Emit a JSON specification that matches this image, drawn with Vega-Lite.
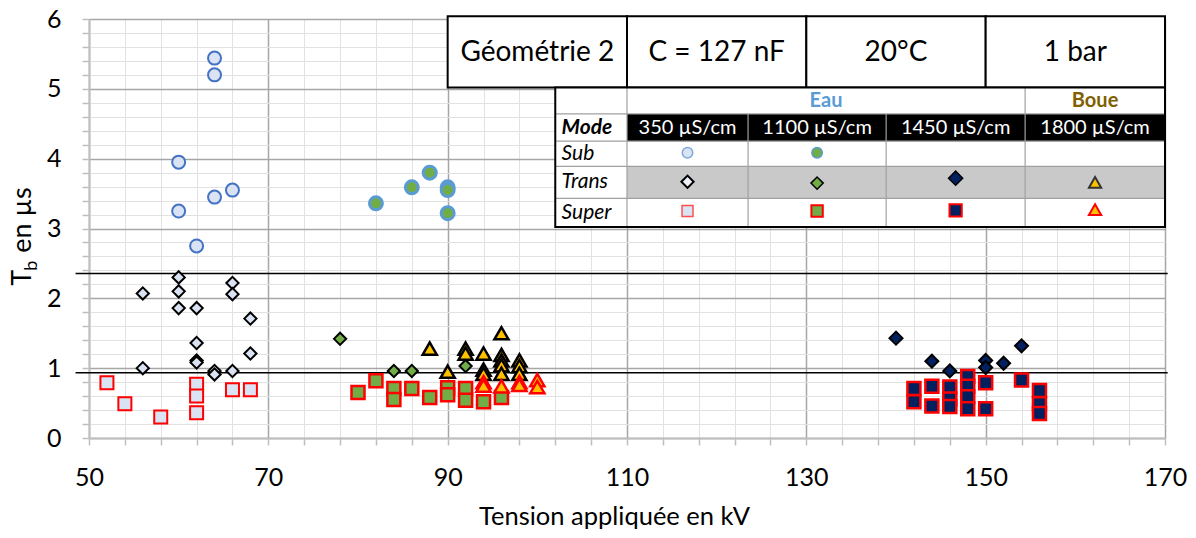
{
"$schema": "https://vega.github.io/schema/vega-lite/v6.json",
"width": 1076, "height": 419,
"autosize": {"type": "none"},
"padding": {"left": 89, "top": 19, "right": 31, "bottom": 100},
"background": "white",
"config": {"view": {"stroke": null}, "font": "Lato", "text": {"font": "Lato"}},
"datasets": {
"points": [
{"kV":64,"Tb":5.44,"cond":"350","mode":"Sub"},{"kV":64,"Tb":5.20,"cond":"350","mode":"Sub"},{"kV":60,"Tb":3.95,"cond":"350","mode":"Sub"},{"kV":60,"Tb":3.25,"cond":"350","mode":"Sub"},{"kV":64,"Tb":3.45,"cond":"350","mode":"Sub"},{"kV":66,"Tb":3.55,"cond":"350","mode":"Sub"},{"kV":62,"Tb":2.75,"cond":"350","mode":"Sub"},
{"kV":56,"Tb":2.07,"cond":"350","mode":"Trans"},{"kV":60,"Tb":2.30,"cond":"350","mode":"Trans"},{"kV":60,"Tb":2.10,"cond":"350","mode":"Trans"},{"kV":60,"Tb":1.86,"cond":"350","mode":"Trans"},{"kV":62,"Tb":1.86,"cond":"350","mode":"Trans"},{"kV":66,"Tb":2.22,"cond":"350","mode":"Trans"},{"kV":66,"Tb":2.06,"cond":"350","mode":"Trans"},{"kV":68,"Tb":1.71,"cond":"350","mode":"Trans"},{"kV":62,"Tb":1.36,"cond":"350","mode":"Trans"},{"kV":62,"Tb":1.11,"cond":"350","mode":"Trans"},{"kV":62,"Tb":1.08,"cond":"350","mode":"Trans"},{"kV":68,"Tb":1.21,"cond":"350","mode":"Trans"},{"kV":56,"Tb":1.00,"cond":"350","mode":"Trans"},{"kV":64,"Tb":0.96,"cond":"350","mode":"Trans"},{"kV":64,"Tb":0.91,"cond":"350","mode":"Trans"},{"kV":66,"Tb":0.96,"cond":"350","mode":"Trans"},
{"kV":52,"Tb":0.79,"cond":"350","mode":"Super"},{"kV":54,"Tb":0.49,"cond":"350","mode":"Super"},{"kV":58,"Tb":0.30,"cond":"350","mode":"Super"},{"kV":62,"Tb":0.77,"cond":"350","mode":"Super"},{"kV":62,"Tb":0.60,"cond":"350","mode":"Super"},{"kV":62,"Tb":0.36,"cond":"350","mode":"Super"},{"kV":66,"Tb":0.69,"cond":"350","mode":"Super"},{"kV":68,"Tb":0.69,"cond":"350","mode":"Super"},
{"kV":82,"Tb":3.36,"cond":"1100","mode":"Sub"},{"kV":86,"Tb":3.59,"cond":"1100","mode":"Sub"},{"kV":88,"Tb":3.80,"cond":"1100","mode":"Sub"},{"kV":90,"Tb":3.59,"cond":"1100","mode":"Sub"},{"kV":90,"Tb":3.55,"cond":"1100","mode":"Sub"},{"kV":90,"Tb":3.22,"cond":"1100","mode":"Sub"},
{"kV":78,"Tb":1.42,"cond":"1100","mode":"Trans"},{"kV":84,"Tb":0.96,"cond":"1100","mode":"Trans"},{"kV":86,"Tb":0.96,"cond":"1100","mode":"Trans"},{"kV":92,"Tb":1.03,"cond":"1100","mode":"Trans"},
{"kV":80,"Tb":0.65,"cond":"1100","mode":"Super"},{"kV":82,"Tb":0.82,"cond":"1100","mode":"Super"},{"kV":84,"Tb":0.71,"cond":"1100","mode":"Super"},{"kV":84,"Tb":0.55,"cond":"1100","mode":"Super"},{"kV":86,"Tb":0.71,"cond":"1100","mode":"Super"},{"kV":88,"Tb":0.58,"cond":"1100","mode":"Super"},{"kV":90,"Tb":0.72,"cond":"1100","mode":"Super"},{"kV":90,"Tb":0.62,"cond":"1100","mode":"Super"},{"kV":92,"Tb":0.71,"cond":"1100","mode":"Super"},{"kV":92,"Tb":0.54,"cond":"1100","mode":"Super"},{"kV":94,"Tb":0.52,"cond":"1100","mode":"Super"},{"kV":96,"Tb":0.58,"cond":"1100","mode":"Super"},
{"kV":140,"Tb":1.43,"cond":"1450","mode":"Trans"},{"kV":144,"Tb":1.10,"cond":"1450","mode":"Trans"},{"kV":146,"Tb":0.96,"cond":"1450","mode":"Trans"},{"kV":150,"Tb":1.11,"cond":"1450","mode":"Trans"},{"kV":150,"Tb":1.01,"cond":"1450","mode":"Trans"},{"kV":152,"Tb":1.07,"cond":"1450","mode":"Trans"},{"kV":154,"Tb":1.32,"cond":"1450","mode":"Trans"},
{"kV":142,"Tb":0.71,"cond":"1450","mode":"Super"},{"kV":142,"Tb":0.52,"cond":"1450","mode":"Super"},{"kV":144,"Tb":0.74,"cond":"1450","mode":"Super"},{"kV":144,"Tb":0.46,"cond":"1450","mode":"Super"},{"kV":146,"Tb":0.73,"cond":"1450","mode":"Super"},{"kV":146,"Tb":0.56,"cond":"1450","mode":"Super"},{"kV":146,"Tb":0.45,"cond":"1450","mode":"Super"},{"kV":148,"Tb":0.88,"cond":"1450","mode":"Super"},{"kV":148,"Tb":0.74,"cond":"1450","mode":"Super"},{"kV":148,"Tb":0.59,"cond":"1450","mode":"Super"},{"kV":148,"Tb":0.42,"cond":"1450","mode":"Super"},{"kV":150,"Tb":0.79,"cond":"1450","mode":"Super"},{"kV":150,"Tb":0.42,"cond":"1450","mode":"Super"},{"kV":154,"Tb":0.83,"cond":"1450","mode":"Super"},{"kV":156,"Tb":0.68,"cond":"1450","mode":"Super"},{"kV":156,"Tb":0.49,"cond":"1450","mode":"Super"},{"kV":156,"Tb":0.35,"cond":"1450","mode":"Super"},
{"kV":88,"Tb":1.28,"cond":"1800","mode":"Trans"},{"kV":90,"Tb":0.95,"cond":"1800","mode":"Trans"},{"kV":92,"Tb":1.28,"cond":"1800","mode":"Trans"},{"kV":92,"Tb":1.21,"cond":"1800","mode":"Trans"},{"kV":94,"Tb":1.21,"cond":"1800","mode":"Trans"},{"kV":94,"Tb":0.98,"cond":"1800","mode":"Trans"},{"kV":94,"Tb":0.92,"cond":"1800","mode":"Trans"},{"kV":96,"Tb":1.50,"cond":"1800","mode":"Trans"},{"kV":96,"Tb":1.19,"cond":"1800","mode":"Trans"},{"kV":96,"Tb":1.11,"cond":"1800","mode":"Trans"},{"kV":96,"Tb":1.04,"cond":"1800","mode":"Trans"},{"kV":96,"Tb":0.92,"cond":"1800","mode":"Trans"},{"kV":98,"Tb":1.11,"cond":"1800","mode":"Trans"},{"kV":98,"Tb":1.03,"cond":"1800","mode":"Trans"},{"kV":98,"Tb":0.92,"cond":"1800","mode":"Trans"},
{"kV":94,"Tb":0.80,"cond":"1800","mode":"Super"},{"kV":94,"Tb":0.75,"cond":"1800","mode":"Super"},{"kV":96,"Tb":0.74,"cond":"1800","mode":"Super"},{"kV":98,"Tb":0.80,"cond":"1800","mode":"Super"},{"kV":98,"Tb":0.76,"cond":"1800","mode":"Super"},{"kV":100,"Tb":0.83,"cond":"1800","mode":"Super"},{"kV":100,"Tb":0.73,"cond":"1800","mode":"Super"}
],
"legendSyms": [
{"kV":116.75,"Tb":4.085,"cond":"350","mode":"Sub"},{"kV":131.2,"Tb":4.085,"cond":"1100","mode":"Sub"},
{"kV":116.75,"Tb":3.67,"cond":"350","mode":"Trans"},{"kV":131.2,"Tb":3.65,"cond":"1100","mode":"Trans"},{"kV":146.65,"Tb":3.72,"cond":"1450","mode":"Trans"},{"kV":162.2,"Tb":3.66,"cond":"1800","mode":"Trans"},
{"kV":116.75,"Tb":3.25,"cond":"350","mode":"Super"},{"kV":131.2,"Tb":3.25,"cond":"1100","mode":"Super"},{"kV":146.65,"Tb":3.26,"cond":"1450","mode":"Super"},{"kV":162.2,"Tb":3.27,"cond":"1800","mode":"Super"}
],
"thresholds": [{"Tb":2.357},{"Tb":0.933}],
"bands": [
{"part":"table","x0":102,"x1":170,"y0":3.02,"y1":5.02},
{"part":"trans","x0":110,"x1":170,"y0":3.43,"y1":3.89},
{"part":"head","x0":110,"x1":170,"y0":4.25,"y1":4.64}
],
"gridLines": [
{"x0":102,"x1":170,"y0":4.64,"y1":4.64},{"x0":102,"x1":170,"y0":4.25,"y1":4.25},{"x0":102,"x1":170,"y0":3.89,"y1":3.89},{"x0":102,"x1":170,"y0":3.43,"y1":3.43},
{"x0":110,"x1":110,"y0":3.02,"y1":5.02},{"x0":123.5,"x1":123.5,"y0":3.02,"y1":4.64},{"x0":138.9,"x1":138.9,"y0":3.02,"y1":4.64},{"x0":154.4,"x1":154.4,"y0":3.02,"y1":5.02}
],
"topCells": [
{"x0":90,"x1":110,"y0":5.02,"y1":6.04},{"x0":110,"x1":130,"y0":5.02,"y1":6.04},{"x0":130,"x1":150,"y0":5.02,"y1":6.04},{"x0":150,"x1":170,"y0":5.02,"y1":6.04}
],
"tableText": [
{"x":100,"y":5.52,"text":"Géométrie 2","kind":"top"},{"x":120,"y":5.52,"text":"C = 127 nF","kind":"top"},{"x":140,"y":5.52,"text":"20°C","kind":"top"},{"x":160,"y":5.52,"text":"1 bar","kind":"top"},
{"x":132.2,"y":4.83,"text":"Eau","kind":"eau"},{"x":162.2,"y":4.83,"text":"Boue","kind":"boue"},
{"x":102.7,"y":4.445,"text":"Mode","kind":"mode"},
{"x":116.75,"y":4.445,"text":"350 µS/cm","kind":"head"},{"x":131.2,"y":4.445,"text":"1100 µS/cm","kind":"head"},{"x":146.65,"y":4.445,"text":"1450 µS/cm","kind":"head"},{"x":162.2,"y":4.445,"text":"1800 µS/cm","kind":"head"},
{"x":102.7,"y":4.07,"text":"Sub","kind":"row"},{"x":102.7,"y":3.66,"text":"Trans","kind":"row"},{"x":102.7,"y":3.225,"text":"Super","kind":"row"}
],
"ytitle": [{"kV":43.5,"Tb":2.18}]
},
"layer": [
{"data":{"name":"thresholds"},"mark":{"type":"rule","color":"black","strokeWidth":1.5},
 "encoding":{
  "y":{"field":"Tb","type":"quantitative","scale":{"domain":[0,6],"nice":false,"zero":true},
   "axis":{"title":null,"tickCount":200,"values":[0,0.2,0.4,0.6,0.8,1,1.2,1.4,1.6,1.8,2,2.2,2.4,2.6,2.8,3,3.2,3.4,3.6,3.8,4,4.2,4.4,4.6,4.8,5,5.2,5.4,5.6,5.8,6],
    "labelExpr":"abs(datum.value - round(datum.value)) < 0.01 ? format(datum.value, 'd') : ''",
    "labelOverlap":false,"labelBound":false,"labelFlush":false,
    "labelFontSize":25,"labelColor":"black","labelPadding":21,"labelFont":"Lato","labelBaseline":"middle",
    "grid":true,"gridColor":{"condition":{"test":"abs(datum.value - round(datum.value)) < 0.01","value":"#a6a6a6"},"value":"#e2e2e2"},
    "gridWidth":{"condition":{"test":"abs(datum.value - round(datum.value)) < 0.01","value":1.5},"value":1},
    "tickColor":"#bfbfbf","tickSize":7,"tickWidth":1.5,"domainColor":"#bfbfbf","domainWidth":2}},
  "x":{"datum":48.5,"type":"quantitative","scale":{"domain":[50,170],"nice":false,"zero":false},
   "axis":{"title":"Tension appliquée en kV","titleFontSize":25.5,"titleFontWeight":"normal","titleColor":"black","titleFont":"Lato","titlePadding":14,"titleX":525,"tickCount":200,
    "values":[50,54,58,62,66,70,74,78,82,86,90,94,98,102,106,110,114,118,122,126,130,134,138,142,146,150,154,158,162,166,170],
    "labelExpr":"datum.value % 20 === 10 ? format(datum.value, 'd') : ''",
    "labelOverlap":false,"labelBound":false,"labelFlush":false,
    "labelFontSize":25,"labelColor":"black","labelPadding":20,"labelFont":"Lato",
    "grid":true,"gridColor":{"condition":{"test":"datum.value % 20 === 10","value":"#a6a6a6"},"value":"#e2e2e2"},
    "gridWidth":{"condition":{"test":"datum.value % 20 === 10","value":1.5},"value":1},
    "tickColor":"#bfbfbf","tickSize":7,"tickWidth":1.5,"domainColor":"#bfbfbf","domainWidth":2}},
  "x2":{"datum":170.3}}},
{"data":{"name":"points"},"transform":[{"filter":"datum.mode==='Sub' && datum.cond==='350'"}],"mark":{"type":"point","shape":"circle","size":169,"filled":true,"fill":"#dae3f3","stroke":"#4472c4","strokeWidth":2,"opacity":1},
 "encoding":{"x":{"field":"kV","type":"quantitative"},"y":{"field":"Tb","type":"quantitative"}}},
{"data":{"name":"points"},"transform":[{"filter":"datum.mode==='Trans' && datum.cond==='350'"}],"mark":{"type":"point","shape":"diamond","size":150,"filled":true,"fill":"#dae3f3","stroke":"black","strokeWidth":2,"opacity":1},
 "encoding":{"x":{"field":"kV","type":"quantitative"},"y":{"field":"Tb","type":"quantitative"}}},
{"data":{"name":"points"},"transform":[{"filter":"datum.mode==='Super' && datum.cond==='350'"}],"mark":{"type":"point","shape":"square","size":169,"filled":true,"fill":"#dae3f3","stroke":"#ff0000","strokeWidth":2,"opacity":1},
 "encoding":{"x":{"field":"kV","type":"quantitative"},"y":{"field":"Tb","type":"quantitative"}}},
{"data":{"name":"points"},"transform":[{"filter":"datum.mode==='Sub' && datum.cond==='1100'"}],"mark":{"type":"point","shape":"circle","size":169,"filled":true,"fill":"#70ad47","stroke":"#5b9bd5","strokeWidth":3,"opacity":1},
 "encoding":{"x":{"field":"kV","type":"quantitative"},"y":{"field":"Tb","type":"quantitative"}}},
{"data":{"name":"points"},"transform":[{"filter":"datum.mode==='Trans' && datum.cond==='1100'"}],"mark":{"type":"point","shape":"diamond","size":150,"filled":true,"fill":"#70ad47","stroke":"black","strokeWidth":2,"opacity":1},
 "encoding":{"x":{"field":"kV","type":"quantitative"},"y":{"field":"Tb","type":"quantitative"}}},
{"data":{"name":"points"},"transform":[{"filter":"datum.mode==='Super' && datum.cond==='1100'"}],"mark":{"type":"point","shape":"square","size":169,"filled":true,"fill":"#70ad47","stroke":"#ff0000","strokeWidth":2.5,"opacity":1},
 "encoding":{"x":{"field":"kV","type":"quantitative"},"y":{"field":"Tb","type":"quantitative"}}},
{"data":{"name":"points"},"transform":[{"filter":"datum.mode==='Trans' && datum.cond==='1450'"}],"mark":{"type":"point","shape":"diamond","size":169,"filled":true,"fill":"#002060","stroke":"black","strokeWidth":2,"opacity":1},
 "encoding":{"x":{"field":"kV","type":"quantitative"},"y":{"field":"Tb","type":"quantitative"}}},
{"data":{"name":"points"},"transform":[{"filter":"datum.mode==='Super' && datum.cond==='1450'"}],"mark":{"type":"point","shape":"square","size":169,"filled":true,"fill":"#002060","stroke":"#ff0000","strokeWidth":2.5,"opacity":1},
 "encoding":{"x":{"field":"kV","type":"quantitative"},"y":{"field":"Tb","type":"quantitative"}}},
{"data":{"name":"points"},"transform":[{"filter":"datum.mode==='Trans' && datum.cond==='1800'"}],"mark":{"type":"point","shape":"triangle-up","size":200,"filled":true,"fill":"#ffc000","stroke":"black","strokeWidth":2.5,"opacity":1},
 "encoding":{"x":{"field":"kV","type":"quantitative"},"y":{"field":"Tb","type":"quantitative"}}},
{"data":{"name":"points"},"transform":[{"filter":"datum.mode==='Super' && datum.cond==='1800'"}],"mark":{"type":"point","shape":"triangle-up","size":200,"filled":true,"fill":"#ffc000","stroke":"#ff0000","strokeWidth":2.5,"opacity":1},
 "encoding":{"x":{"field":"kV","type":"quantitative"},"y":{"field":"Tb","type":"quantitative"}}},
{"data":{"name":"topCells"},"mark":{"type":"rect","fill":"white","stroke":"black","strokeWidth":2},
 "encoding":{"x":{"field":"x0","type":"quantitative"},"x2":{"field":"x1"},"y":{"field":"y0","type":"quantitative"},"y2":{"field":"y1"}}},
{"data":{"name":"bands"},"transform":[{"filter":"datum.part==='table'"}],"mark":{"type":"rect","fill":"white"},
 "encoding":{"x":{"field":"x0","type":"quantitative"},"x2":{"field":"x1"},"y":{"field":"y0","type":"quantitative"},"y2":{"field":"y1"}}},
{"data":{"name":"bands"},"transform":[{"filter":"datum.part==='trans'"}],"mark":{"type":"rect","fill":"#c9c9c9"},
 "encoding":{"x":{"field":"x0","type":"quantitative"},"x2":{"field":"x1"},"y":{"field":"y0","type":"quantitative"},"y2":{"field":"y1"}}},
{"data":{"name":"bands"},"transform":[{"filter":"datum.part==='head'"}],"mark":{"type":"rect","fill":"black"},
 "encoding":{"x":{"field":"x0","type":"quantitative"},"x2":{"field":"x1"},"y":{"field":"y0","type":"quantitative"},"y2":{"field":"y1"}}},
{"data":{"name":"gridLines"},"mark":{"type":"rule","color":"#a0a0a0","strokeWidth":1.2},
 "encoding":{"x":{"field":"x0","type":"quantitative"},"x2":{"field":"x1"},"y":{"field":"y0","type":"quantitative"},"y2":{"field":"y1"}}},
{"data":{"name":"bands"},"transform":[{"filter":"datum.part==='table'"}],"mark":{"type":"rect","fill":null,"fillOpacity":0,"stroke":"black","strokeWidth":2},
 "encoding":{"x":{"field":"x0","type":"quantitative"},"x2":{"field":"x1"},"y":{"field":"y0","type":"quantitative"},"y2":{"field":"y1"}}},
{"data":{"name":"legendSyms"},"transform":[{"filter":"datum.mode==='Sub' && datum.cond==='350'"}],"mark":{"type":"point","shape":"circle","size":110,"filled":true,"fill":"#dae3f3","stroke":"#7fa9dc","strokeWidth":1.5,"opacity":1},
 "encoding":{"x":{"field":"kV","type":"quantitative"},"y":{"field":"Tb","type":"quantitative"}}},
{"data":{"name":"legendSyms"},"transform":[{"filter":"datum.mode==='Sub' && datum.cond==='1100'"}],"mark":{"type":"point","shape":"circle","size":110,"filled":true,"fill":"#70ad47","stroke":"#5b9bd5","strokeWidth":1.5,"opacity":1},
 "encoding":{"x":{"field":"kV","type":"quantitative"},"y":{"field":"Tb","type":"quantitative"}}},
{"data":{"name":"legendSyms"},"transform":[{"filter":"datum.mode==='Trans' && datum.cond==='350'"}],"mark":{"type":"point","shape":"diamond","size":150,"filled":true,"fill":"#eef2fa","stroke":"black","strokeWidth":2,"opacity":1},
 "encoding":{"x":{"field":"kV","type":"quantitative"},"y":{"field":"Tb","type":"quantitative"}}},
{"data":{"name":"legendSyms"},"transform":[{"filter":"datum.mode==='Trans' && datum.cond==='1100'"}],"mark":{"type":"point","shape":"diamond","size":150,"filled":true,"fill":"#70ad47","stroke":"black","strokeWidth":1.5,"opacity":1},
 "encoding":{"x":{"field":"kV","type":"quantitative"},"y":{"field":"Tb","type":"quantitative"}}},
{"data":{"name":"legendSyms"},"transform":[{"filter":"datum.mode==='Trans' && datum.cond==='1450'"}],"mark":{"type":"point","shape":"diamond","size":200,"filled":true,"fill":"#002060","stroke":"black","strokeWidth":1.5,"opacity":1},
 "encoding":{"x":{"field":"kV","type":"quantitative"},"y":{"field":"Tb","type":"quantitative"}}},
{"data":{"name":"legendSyms"},"transform":[{"filter":"datum.mode==='Trans' && datum.cond==='1800'"}],"mark":{"type":"point","shape":"triangle-up","size":150,"filled":true,"fill":"#ffc000","stroke":"#333333","strokeWidth":2,"opacity":1},
 "encoding":{"x":{"field":"kV","type":"quantitative"},"y":{"field":"Tb","type":"quantitative"}}},
{"data":{"name":"legendSyms"},"transform":[{"filter":"datum.mode==='Super' && datum.cond==='350'"}],"mark":{"type":"point","shape":"square","size":120,"filled":true,"fill":"#dae3f3","stroke":"#ff5050","strokeWidth":1.5,"opacity":1},
 "encoding":{"x":{"field":"kV","type":"quantitative"},"y":{"field":"Tb","type":"quantitative"}}},
{"data":{"name":"legendSyms"},"transform":[{"filter":"datum.mode==='Super' && datum.cond==='1100'"}],"mark":{"type":"point","shape":"square","size":130,"filled":true,"fill":"#70ad47","stroke":"#ff0000","strokeWidth":2,"opacity":1},
 "encoding":{"x":{"field":"kV","type":"quantitative"},"y":{"field":"Tb","type":"quantitative"}}},
{"data":{"name":"legendSyms"},"transform":[{"filter":"datum.mode==='Super' && datum.cond==='1450'"}],"mark":{"type":"point","shape":"square","size":150,"filled":true,"fill":"#002060","stroke":"#ff0000","strokeWidth":2,"opacity":1},
 "encoding":{"x":{"field":"kV","type":"quantitative"},"y":{"field":"Tb","type":"quantitative"}}},
{"data":{"name":"legendSyms"},"transform":[{"filter":"datum.mode==='Super' && datum.cond==='1800'"}],"mark":{"type":"point","shape":"triangle-up","size":150,"filled":true,"fill":"#ffc000","stroke":"#ff0000","strokeWidth":2,"opacity":1},
 "encoding":{"x":{"field":"kV","type":"quantitative"},"y":{"field":"Tb","type":"quantitative"}}},
{"data":{"name":"tableText"},"transform":[{"filter":"datum.kind==='top'"}],"mark":{"type":"text","fontSize":28,"color":"black","align":"center","baseline":"middle","font":"Lato"},
 "encoding":{"x":{"field":"x","type":"quantitative"},"y":{"field":"y","type":"quantitative"},"text":{"field":"text"}}},
{"data":{"name":"tableText"},"transform":[{"filter":"datum.kind==='eau'"}],"mark":{"type":"text","fontSize":20,"fontWeight":"bold","color":"#5b9bd5","align":"center","baseline":"middle","font":"Lato"},
 "encoding":{"x":{"field":"x","type":"quantitative"},"y":{"field":"y","type":"quantitative"},"text":{"field":"text"}}},
{"data":{"name":"tableText"},"transform":[{"filter":"datum.kind==='boue'"}],"mark":{"type":"text","fontSize":20,"fontWeight":"bold","color":"#806000","align":"center","baseline":"middle","font":"Lato"},
 "encoding":{"x":{"field":"x","type":"quantitative"},"y":{"field":"y","type":"quantitative"},"text":{"field":"text"}}},
{"data":{"name":"tableText"},"transform":[{"filter":"datum.kind==='mode'"}],"mark":{"type":"text","fontSize":21,"fontWeight":"bold","fontStyle":"italic","color":"black","align":"left","baseline":"middle","font":"Lato"},
 "encoding":{"x":{"field":"x","type":"quantitative"},"y":{"field":"y","type":"quantitative"},"text":{"field":"text"}}},
{"data":{"name":"tableText"},"transform":[{"filter":"datum.kind==='head'"}],"mark":{"type":"text","fontSize":20,"color":"white","align":"center","baseline":"middle","font":"Lato"},
 "encoding":{"x":{"field":"x","type":"quantitative"},"y":{"field":"y","type":"quantitative"},"text":{"field":"text"}}},
{"data":{"name":"tableText"},"transform":[{"filter":"datum.kind==='row'"}],"mark":{"type":"text","fontSize":21,"fontStyle":"italic","color":"black","align":"left","baseline":"middle","font":"Lato"},
 "encoding":{"x":{"field":"x","type":"quantitative"},"y":{"field":"y","type":"quantitative"},"text":{"field":"text"}}},
{"data":{"name":"ytitle"},"mark":{"type":"text","text":"T","fontSize":27,"angle":270,"align":"left","baseline":"alphabetic","color":"black","font":"Lato"},
 "encoding":{"x":{"field":"kV","type":"quantitative"},"y":{"field":"Tb","type":"quantitative"}}},
{"data":{"name":"ytitle"},"mark":{"type":"text","text":"b","fontSize":18,"angle":270,"align":"left","baseline":"alphabetic","dx":15,"dy":6,"color":"black","font":"Lato"},
 "encoding":{"x":{"field":"kV","type":"quantitative"},"y":{"field":"Tb","type":"quantitative"}}},
{"data":{"name":"ytitle"},"mark":{"type":"text","text":"en µs","fontSize":27,"angle":270,"align":"left","baseline":"alphabetic","dx":33,"color":"black","font":"Lato"},
 "encoding":{"x":{"field":"kV","type":"quantitative"},"y":{"field":"Tb","type":"quantitative"}}}
]
}
